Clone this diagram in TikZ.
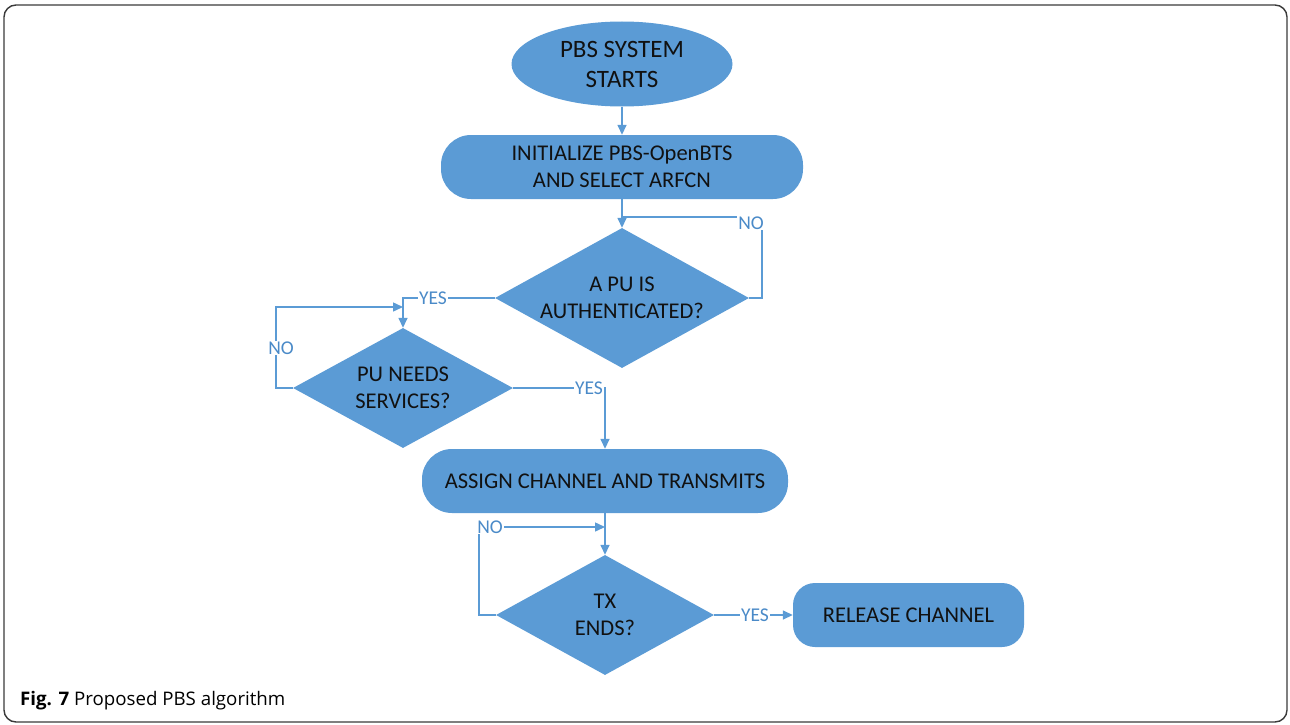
\documentclass[tikz,border=0pt]{standalone}
\usepackage{fontspec}
\setmainfont{Carlito}
\newfontfamily\capfont{Open Sans}
\usetikzlibrary{shapes.geometric,arrows.meta}
\definecolor{flowblue}{HTML}{5B9BD5}
\definecolor{labelblue}{HTML}{4A8AC8}
\definecolor{framegray}{HTML}{3A3A3A}
\definecolor{inktext}{HTML}{111111}
\begin{document}
\begin{tikzpicture}[x=1pt,y=-1pt,
  shapebase/.style={fill=flowblue,draw=none,inner sep=0pt,align=center,text=inktext,
    font=\fontsize{22.5}{27}\selectfont},
  terminal/.style={shapebase,ellipse,minimum width=221pt,minimum height=85pt,
    font=\fontsize{25}{30}\selectfont},
  procbox/.style={shapebase,rectangle,rounded corners=30pt,minimum height=64pt},
  decision/.style={shapebase,diamond},
  flow/.style={draw=flowblue,line width=1.5pt},
  arrowflow/.style={flow,-{Triangle[length=10pt,width=9pt]}},
  branch/.style={fill=white,inner sep=1pt,text=labelblue,font=\fontsize{19.5}{22}\selectfont}
]
\useasboundingbox (0,0) rectangle (1290,725);
\draw[framegray,line width=1.4pt,rounded corners=12pt] (4,5) rectangle (1287,722);

% process steps
\node[terminal] (start) at (622,64) {PBS SYSTEM\\STARTS};
\node[procbox,minimum width=362pt] (init) at (622,167) {INITIALIZE PBS-OpenBTS\\AND SELECT ARFCN};
\node[decision,minimum width=254pt,minimum height=140pt,aspect=1.814] (auth) at (622,298) {A PU IS\\AUTHENTICATED?};
\node[decision,minimum width=220pt,minimum height=120pt,aspect=1.833] (needs) at (403,388) {PU NEEDS\\SERVICES?};
\node[procbox,minimum width=366pt] (assign) at (605,481) {ASSIGN CHANNEL AND TRANSMITS};
\node[decision,minimum width=218pt,minimum height=120pt,aspect=1.817] (ends) at (605,615) {TX\\ENDS?};
\node[procbox,minimum width=231pt,rounded corners=22pt] (release) at (908.5,615) {RELEASE CHANNEL};

% bend points of the loops
\coordinate (authjoin) at (622,217);
\coordinate (authturn) at (762,217);
\coordinate (yesturn) at (403,298);
\coordinate (needsturn) at (276,307);
\coordinate (needsjoin) at (403,307);
\coordinate (endsturn) at (479,527);
\coordinate (endsjoin) at (605,527);

% connectors
\draw[arrowflow] (start.south) -- (init.north);
\draw[arrowflow] (init.south) -- (auth.north);
\draw[flow] (auth.east) -| (authturn) -- (authjoin);
\draw[arrowflow] (auth.west) -- (yesturn) -- (needs.north);
\draw[arrowflow] (needs.west) -| (needsturn) -- (needsjoin);
\draw[arrowflow] (needs.east) -| (assign.north);
\draw[arrowflow] (assign.south) -- (ends.north);
\draw[arrowflow] (ends.west) -| (endsturn) -- (endsjoin);
\draw[arrowflow] (ends.east) -- (release.west);

% branch labels
\node[branch] (noauth) at (751,223) {NO};
\node[branch] (yesauth) at (433,298) {YES};
\node[branch] (noneeds) at (281,348) {NO};
\node[branch] (yesneeds) at (589,388) {YES};
\node[branch] (noends) at (490,527) {NO};
\node[branch] (yesends) at (755,615) {YES};

% caption
\node[anchor=base west,inner sep=0pt,text=black,font=\capfont\fontsize{18.7}{21}\selectfont] (caption) at (20,705)
  {\textbf{Fig. 7} Proposed PBS algorithm};
\end{tikzpicture}
\end{document}
